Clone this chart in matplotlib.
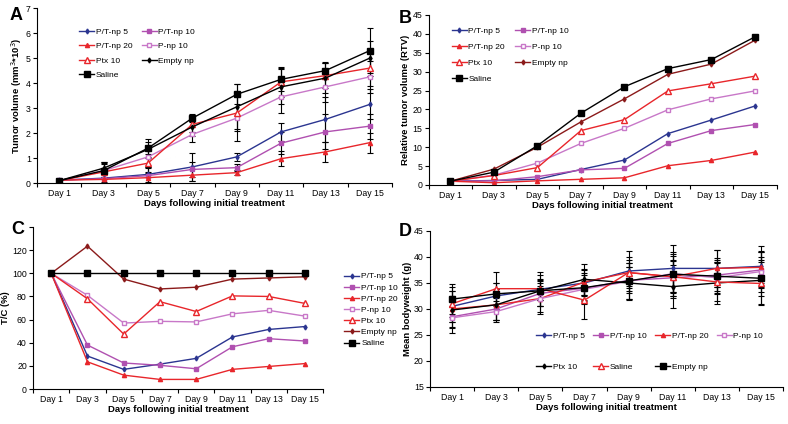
import matplotlib
matplotlib.use("Agg")
import matplotlib.pyplot as plt
import numpy as np

plt.rcParams['font.family'] = ['Liberation Sans', 'DejaVu Sans']

days = ["Day 1", "Day 3", "Day 5", "Day 7", "Day 9", "Day 11", "Day 13", "Day 15"]
groups = ["P/T-np 5", "P/T-np 10", "P/T-np 20", "P-np 10", "Ptx 10", "Empty np", "Saline"]

# --- Panel A: tumor volume (mm^3*10^3) ---
vol_mean = {
    "P/T-np 5":  [0.12, 0.20, 0.35, 0.65, 1.05, 2.05, 2.55, 3.15],
    "P/T-np 10": [0.12, 0.18, 0.30, 0.55, 0.62, 1.60, 2.05, 2.28],
    "P/T-np 20": [0.12, 0.15, 0.22, 0.32, 0.42, 0.98, 1.25, 1.62],
    "P-np 10":   [0.10, 0.50, 1.05, 1.95, 2.60, 3.45, 3.85, 4.25],
    "Ptx 10":    [0.10, 0.45, 0.80, 2.35, 2.80, 4.05, 4.30, 4.60],
    "Empty np":  [0.10, 0.60, 1.35, 2.25, 3.05, 3.85, 4.20, 5.00],
    "Saline":    [0.10, 0.50, 1.40, 2.60, 3.55, 4.15, 4.50, 5.30],
}
vol_err = {
    "P/T-np 5":  [0.05, 0.25, 0.30, 0.55, 0.15, 0.35, 0.90, 0.60],
    "P/T-np 10": [0.05, 0.20, 0.30, 0.30, 0.15, 0.45, 0.70, 0.50],
    "P/T-np 20": [0.05, 0.10, 0.20, 0.25, 0.10, 0.30, 0.40, 0.40],
    "P-np 10":   [0.05, 0.30, 0.40, 0.30, 0.90, 0.65, 0.60, 0.65],
    "Ptx 10":    [0.05, 0.30, 0.35, 0.30, 0.70, 0.60, 0.50, 0.70],
    "Empty np":  [0.05, 0.25, 0.30, 0.35, 0.90, 0.70, 0.60, 0.70],
    "Saline":    [0.05, 0.35, 0.38, 0.15, 0.40, 0.45, 0.35, 0.90],
}

# --- Panel B: relative tumor volume ---
rtv = {
    "P/T-np 5":  [1.0, 1.2, 1.5, 4.1, 6.6, 13.6, 17.2, 20.9],
    "P/T-np 10": [1.0, 1.1, 2.2, 4.0, 4.4, 11.0, 14.4, 16.0],
    "P/T-np 20": [1.0, 0.6, 1.1, 1.5, 1.9, 5.1, 6.5, 8.7],
    "P-np 10":   [1.0, 2.6, 5.8, 11.0, 15.0, 19.9, 22.8, 24.9],
    "Ptx 10":    [1.0, 2.5, 4.6, 14.4, 17.3, 24.9, 26.8, 28.8],
    "Empty np":  [1.0, 4.2, 10.0, 16.7, 22.8, 29.3, 32.0, 38.3],
    "Saline":    [1.0, 3.4, 10.4, 19.0, 26.0, 30.8, 33.2, 39.2],
}

# --- Panel C: T/C (%) ---
tc = {
    "P/T-np 5":  [100, 28.5, 17.0, 21.5, 26.5, 45.0, 51.5, 54.0],
    "P/T-np 10": [100, 38.0, 22.5, 20.5, 17.5, 36.5, 43.5, 41.5],
    "P/T-np 20": [100, 23.5, 12.0, 8.3, 8.3, 17.0, 19.5, 22.0],
    "P-np 10":   [100, 81.0, 57.0, 58.5, 58.0, 65.0, 68.0, 63.0],
    "Ptx 10":    [100, 78.0, 47.5, 75.5, 67.0, 80.5, 80.0, 74.0],
    "Empty np":  [100, 123.5, 95.0, 86.5, 88.0, 95.0, 96.0, 97.0],
    "Saline":    [100, 100, 100, 100, 100, 100, 100, 100],
}

# --- Panel D: mean bodyweight (g) ---
bw_groups = ["P/T-np 5", "P/T-np 10", "P/T-np 20", "P-np 10", "Ptx 10", "Saline", "Empty np"]
bw_mean = {
    "P/T-np 5":  [30.5, 32.5, 33.8, 35.0, 37.3, 37.8, 37.8, 38.2],
    "P/T-np 10": [28.5, 30.0, 33.0, 34.0, 35.5, 36.0, 36.5, 37.5],
    "P/T-np 20": [30.0, 30.8, 32.0, 35.2, 37.0, 36.2, 37.8, 38.0],
    "P-np 10":   [28.3, 29.5, 32.0, 33.8, 35.3, 36.8, 36.0, 37.2],
    "Ptx 10":    [29.8, 30.8, 33.5, 35.7, 35.0, 34.3, 35.0, 35.5],
    "Saline":    [31.0, 33.9, 33.9, 31.7, 37.0, 36.2, 35.2, 34.9],
    "Empty np":  [31.9, 32.9, 33.5, 34.1, 35.4, 36.7, 36.3, 35.9],
}
bw_err = {
    "P/T-np 5":  [3.0, 2.5, 2.0, 2.5, 3.8, 4.5, 3.5, 4.0],
    "P/T-np 10": [2.0, 2.2, 2.5, 3.0, 2.5, 3.5, 3.0, 3.5],
    "P/T-np 20": [2.5, 3.0, 2.5, 2.5, 2.5, 3.0, 3.5, 3.0],
    "P-np 10":   [2.0, 2.0, 3.0, 2.0, 3.5, 3.8, 3.0, 4.0],
    "Ptx 10":    [4.5, 3.0, 3.0, 3.0, 3.0, 4.2, 4.0, 4.5],
    "Saline":    [2.5, 3.3, 3.3, 3.6, 3.0, 4.0, 3.6, 4.2],
    "Empty np":  [2.9, 2.0, 1.8, 2.5, 3.5, 4.3, 3.5, 3.5],
}

NAVY = "#2b3590"
PURPLE = "#b050b0"
RED = "#e8262b"
PINK = "#c878c8"
DARKRED = "#8b1a1a"

style = {
    "P/T-np 5":  dict(color=NAVY, marker="d", ms=2.5, mfc=NAVY),
    "P/T-np 10": dict(color=PURPLE, marker="s", ms=2.2, mfc=PURPLE),
    "P/T-np 20": dict(color=RED, marker="^", ms=3, mfc=RED),
    "P-np 10":   dict(color=PINK, marker="s", ms=3.5, mfc="white"),
    "Ptx 10":    dict(color=RED, marker="^", ms=4.5, mfc="white"),
    "Empty np":  dict(color="black", marker="d", ms=2.5, mfc="black"),
    "Saline":    dict(color="black", marker="s", ms=5, mfc="black"),
}

x = np.arange(len(days))
LEG = dict(frameon=False, fontsize=6, handlelength=1.8, handletextpad=0.2)


def setup(ax, ylim, yticks, ylabel):
    ax.set_xlim(-0.5, len(days) - 0.5)
    ax.set_ylim(*ylim)
    ax.set_yticks(yticks)
    bounds = np.arange(-0.5, len(days))
    ax.set_xticks(bounds, labels=[""] * len(bounds))
    ax.set_xticks(x, labels=days, minor=True)
    ax.tick_params(axis="x", which="major", length=3, width=0.8, direction="out")
    ax.tick_params(axis="x", which="minor", length=0, labelsize=6.3, pad=4)
    ax.tick_params(axis="y", length=3, width=0.8, labelsize=6.3, pad=1.5)
    for s in ["top", "right"]:
        ax.spines[s].set_visible(False)
    ax.spines["left"].set_linewidth(0.8)
    ax.spines["bottom"].set_linewidth(0.8)
    ax.set_ylabel(ylabel, fontsize=6.8, fontweight="bold", labelpad=1.5)
    ax.set_xlabel("Days following initial treatment", fontsize=6.8,
                  fontweight="bold", labelpad=1)


fig = plt.figure(figsize=(7.88, 4.24), dpi=100)
axA = fig.add_axes([0.047, 0.568, 0.4505, 0.413])
axB = fig.add_axes([0.544, 0.5637, 0.4416, 0.401])
axC = fig.add_axes([0.042, 0.0825, 0.368, 0.382])
axD = fig.add_axes([0.5457, 0.0873, 0.448, 0.368])

# Panel A
handles = {}
for g in groups:
    axA.errorbar(x, vol_mean[g], yerr=vol_err[g], fmt="none", ecolor="black",
                 elinewidth=0.8, capsize=2, capthick=0.8, zorder=1)
    h, = axA.plot(x, vol_mean[g], lw=1, label=g, zorder=2, **style[g])
    handles[g] = h
order = ["P/T-np 5", "P/T-np 20", "Ptx 10", "Saline", "P/T-np 10", "P-np 10", "Empty np"]
axA.legend([handles[g] for g in order], order, ncol=2, loc="upper left",
           bbox_to_anchor=(0.098, 0.93), labelspacing=0.8, columnspacing=1.1, **LEG)
setup(axA, (0, 7), range(0, 8), "Tumor volume (mm$^{3}$*10$^{3}$)")

# Panel B
handles = {}
for g in groups:
    st = dict(style[g])
    if g == "Empty np":
        st.update(color=DARKRED, mfc=DARKRED)
    h, = axB.plot(x, rtv[g], lw=1, label=g, **st)
    handles[g] = h
axB.legend([handles[g] for g in order], order, ncol=2, loc="upper left",
           bbox_to_anchor=(0.045, 0.975), labelspacing=1.0, columnspacing=1.2, **LEG)
setup(axB, (0, 45), range(0, 46, 5), "Relative tumor volume (RTV)")

# Panel C
handles = {}
for g in groups:
    st = dict(style[g])
    if g == "Empty np":
        st.update(color=DARKRED, mfc=DARKRED)
    h, = axC.plot(x, tc[g], lw=1, label=g, **st)
    handles[g] = h
axC.legend([handles[g] for g in groups], groups, loc="upper left",
           bbox_to_anchor=(1.048, 0.765), labelspacing=0.4, **LEG)
setup(axC, (0, 140), range(0, 141, 20), "T/C (%)")
axC.set_yticklabels([str(v) for v in range(0, 121, 20)] + [""])

# Panel D
style_d = {
    "P/T-np 5":  style["P/T-np 5"],
    "P/T-np 10": style["P/T-np 10"],
    "P/T-np 20": style["P/T-np 20"],
    "P-np 10":   style["P-np 10"],
    "Ptx 10":    dict(color="black", marker="d", ms=2.5, mfc="black"),
    "Saline":    dict(color=RED, marker="^", ms=4.5, mfc="white"),
    "Empty np":  dict(color="black", marker="s", ms=5, mfc="black"),
}
handles = {}
for g in bw_groups:
    axD.errorbar(x, bw_mean[g], yerr=bw_err[g], fmt="none", ecolor="black",
                 elinewidth=0.8, capsize=2, capthick=0.8, zorder=1)
    h, = axD.plot(x, bw_mean[g], lw=1, label=g, zorder=2, **style_d[g])
    handles[g] = h
order_d = ["P/T-np 5", "Ptx 10", "P/T-np 10", "Saline", "P/T-np 20", "Empty np", "P-np 10"]
axD.legend([handles[g] for g in order_d], order_d, ncol=4, loc="upper left",
           bbox_to_anchor=(0.28, 0.40), labelspacing=2.75, columnspacing=1.0, **LEG)
setup(axD, (15, 45), range(15, 46, 5), "Mean bodyweight (g)")

for letter, (px, py) in [("A", (10, 7)), ("B", (399, 10)),
                         ("C", (11, 221)), ("D", (399, 223))]:
    fig.text(px / 788, 1 - py / 424, letter, fontsize=13, fontweight="bold",
             va="top", ha="left")

fig.savefig("out.png", dpi=100)
